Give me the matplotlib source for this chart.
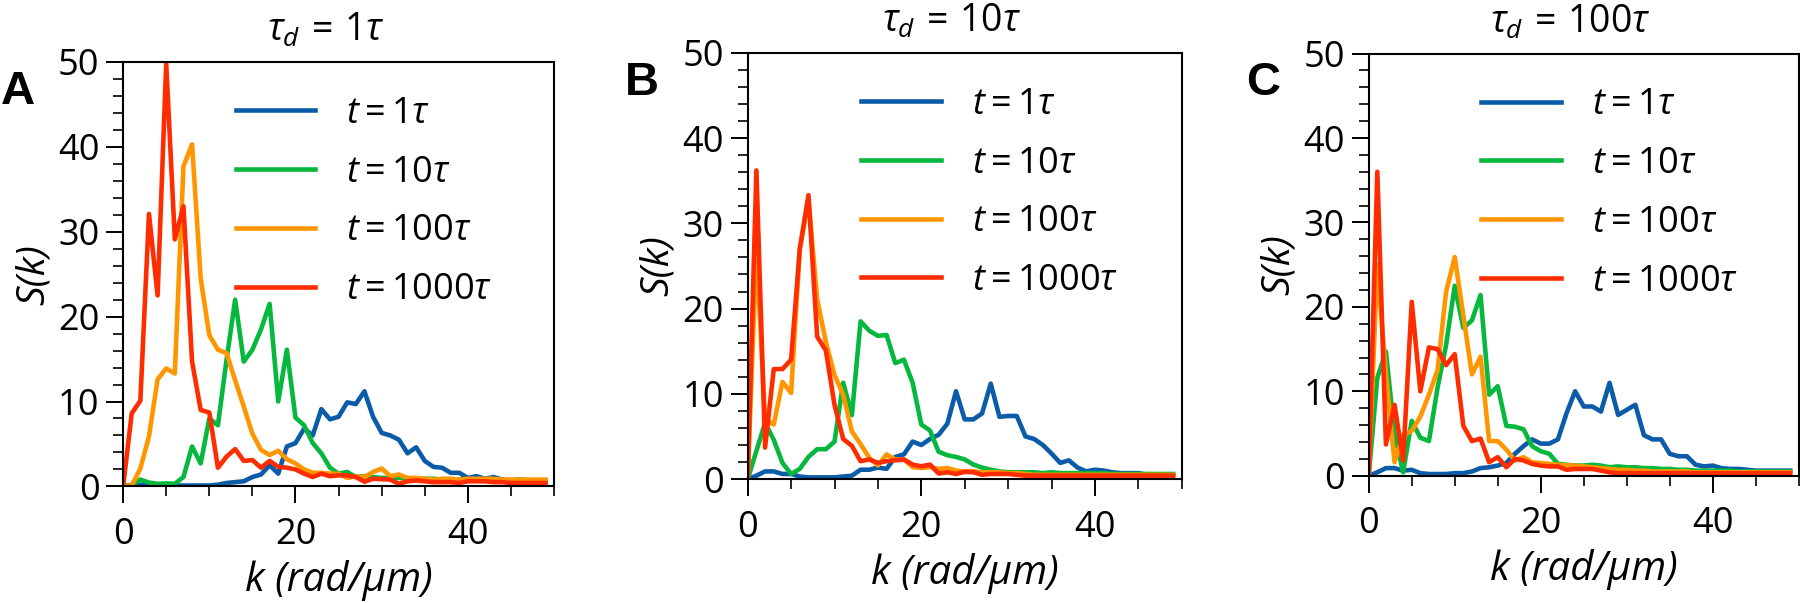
import numpy as np
import matplotlib
matplotlib.use('Agg')
import matplotlib.pyplot as plt
from matplotlib.ticker import MultipleLocator

plt.rcParams['font.family'] = ['Open Sans', 'DejaVu Sans']
plt.rcParams['mathtext.fontset'] = 'custom'
plt.rcParams['mathtext.rm'] = 'Open Sans'
plt.rcParams['mathtext.it'] = 'Open Sans:italic'
plt.rcParams['mathtext.bf'] = 'Open Sans:bold'
plt.rcParams['mathtext.fallback'] = 'stixsans'

# ── Data: S(k), k = 0..49 ─────────────────────────────────────
k = np.arange(50)

# panel A: tau_d = 1 tau
A_t1 = [0, 0.1, 0.2, 0.1, 0.1, 0.1, 0.1, 0.1, 0.1, 0.1,
        0.1, 0.2, 0.4, 0.5, 0.6, 1.1, 1.4, 2.5, 1.5, 4.7,
        5.1, 6.8, 6.0, 9.1, 7.9, 8.2, 9.9, 9.7, 11.2, 8.2,
        6.3, 6.0, 5.5, 3.9, 4.6, 3.0, 2.3, 2.2, 1.6, 1.6,
        1.0, 1.2, 0.9, 1.1, 0.8, 0.7, 0.6, 0.6, 0.5, 0.5]
A_t10 = [0, 0.2, 0.8, 0.45, 0.3, 0.35, 0.3, 1.1, 4.7, 2.7,
         8.0, 7.2, 14.9, 22.0, 14.7, 16.1, 18.5, 21.5, 10.0, 16.1,
         8.1, 7.2, 5.1, 3.9, 2.2, 1.5, 1.7, 1.1, 1.2, 1.1,
         1.0, 1.0, 1.0, 0.9, 0.9, 0.9, 0.9, 0.8, 0.8, 0.8,
         0.8, 0.8, 0.8, 0.7, 0.7, 0.7, 0.8, 0.7, 0.7, 0.7]
A_t100 = [0, 0.1, 2.1, 5.9, 12.6, 13.9, 13.3, 37.7, 40.3, 24.5,
          17.8, 16.1, 15.7, 12.5, 9.4, 6.2, 4.3, 3.7, 4.2, 3.2,
          2.7, 2.0, 1.6, 1.6, 1.5, 1.5, 1.0, 1.2, 1.1, 1.7,
          2.1, 1.2, 1.4, 1.0, 1.0, 0.9, 0.8, 0.9, 0.9, 0.8,
          0.9, 0.9, 0.9, 0.9, 0.8, 0.8, 0.8, 0.8, 0.8, 0.8]
A_t1000 = [0, 8.6, 10.1, 32.1, 22.5, 49.8, 29.1, 33.0, 14.7, 9.0,
           8.7, 2.2, 3.5, 4.4, 3.0, 3.1, 2.2, 3.0, 2.3, 2.2,
           2.0, 1.5, 1.1, 1.5, 1.2, 1.3, 1.3, 1.1, 0.55, 0.9,
           0.85, 0.8, 0.3, 0.6, 0.7, 0.6, 0.5, 0.5, 0.5, 0.4,
           0.6, 0.6, 0.6, 0.5, 0.5, 0.4, 0.4, 0.4, 0.4, 0.4]

# panel B: tau_d = 10 tau
B_t1 = [0, 0.4, 0.9, 0.9, 0.6, 0.6, 0.3, 0.2, 0.2, 0.2,
        0.2, 0.3, 0.4, 1.1, 1.1, 1.35, 1.2, 2.6, 2.9, 4.4,
        4.0, 4.7, 5.2, 6.5, 10.3, 7.0, 7.0, 7.7, 11.2, 7.3,
        7.4, 7.4, 5.0, 4.7, 4.0, 3.0, 1.9, 2.2, 1.35, 0.9,
        1.1, 1.0, 0.8, 0.7, 0.7, 0.7, 0.5, 0.5, 0.5, 0.5]
B_t10 = [0, 3.3, 6.6, 4.6, 1.9, 0.6, 1.2, 2.6, 3.5, 3.5,
         4.4, 11.3, 7.5, 18.5, 17.4, 16.8, 16.9, 13.6, 14.0, 11.3,
         6.4, 5.7, 3.2, 2.8, 2.6, 2.3, 1.7, 1.35, 1.1, 0.9,
         0.8, 0.8, 0.8, 0.8, 0.7, 0.8, 0.7, 0.7, 0.7, 0.7,
         0.7, 0.7, 0.6, 0.6, 0.6, 0.6, 0.6, 0.6, 0.6, 0.6]
B_t100 = [0, 27.0, 7.0, 6.4, 11.4, 10.1, 27.0, 32.8, 21.1, 16.1,
          12.2, 9.9, 5.6, 4.1, 2.5, 1.6, 2.9, 2.3, 2.3, 1.4,
          1.3, 1.4, 1.2, 1.3, 1.0, 0.9, 0.9, 0.8, 0.8, 0.8,
          0.7, 0.7, 0.6, 0.5, 0.5, 0.5, 0.5, 0.5, 0.5, 0.5,
          0.5, 0.5, 0.5, 0.5, 0.5, 0.5, 0.5, 0.5, 0.5, 0.5]
B_t1000 = [0, 36.2, 3.7, 12.9, 12.9, 14.0, 27.0, 33.3, 16.7, 15.1,
           8.7, 4.7, 3.9, 2.1, 2.3, 1.9, 2.1, 2.2, 2.3, 1.7,
           1.5, 1.7, 0.65, 0.8, 0.6, 0.85, 0.8, 0.5, 0.6, 0.6,
           0.6, 0.5, 0.4, 0.4, 0.4, 0.4, 0.4, 0.4, 0.4, 0.4,
           0.4, 0.4, 0.4, 0.4, 0.4, 0.4, 0.4, 0.4, 0.4, 0.4]

# panel C: tau_d = 100 tau
C_t1 = [0, 0.4, 0.9, 0.9, 0.6, 0.7, 0.3, 0.2, 0.2, 0.2,
        0.3, 0.3, 0.5, 0.9, 1.0, 1.2, 1.5, 2.6, 3.5, 4.3,
        3.8, 3.8, 4.3, 7.4, 10.0, 8.2, 8.2, 7.6, 11.0, 7.2,
        7.8, 8.4, 4.8, 4.3, 4.3, 2.6, 2.3, 2.3, 1.3, 1.1,
        1.2, 0.9, 0.8, 0.8, 0.7, 0.6, 0.6, 0.6, 0.6, 0.6]
C_t10 = [0, 11.6, 14.7, 5.0, 0.4, 6.5, 4.5, 4.1, 10.4, 15.5,
         22.5, 17.5, 18.4, 21.4, 9.6, 10.6, 5.9, 5.8, 5.5, 3.5,
         2.9, 2.6, 1.4, 1.3, 1.2, 1.2, 1.3, 1.2, 1.0, 1.1,
         1.0, 1.0, 0.9, 0.9, 0.8, 0.8, 0.7, 0.7, 0.6, 0.6,
         0.6, 0.6, 0.6, 0.5, 0.5, 0.5, 0.5, 0.5, 0.5, 0.5]
C_t100 = [0, 25.0, 12.0, 1.6, 4.8, 5.3, 7.0, 9.6, 12.5, 21.8,
          25.9, 19.0, 12.0, 14.1, 4.1, 4.1, 3.1, 1.8, 2.2, 1.6,
          1.5, 1.4, 1.3, 1.25, 1.2, 1.1, 1.0, 0.9, 0.8, 0.7,
          0.7, 0.6, 0.6, 0.5, 0.5, 0.5, 0.5, 0.5, 0.4, 0.4,
          0.4, 0.4, 0.4, 0.4, 0.4, 0.4, 0.4, 0.4, 0.4, 0.4]
C_t1000 = [0, 36.0, 3.7, 8.4, 1.8, 20.6, 10.0, 15.2, 15.0, 13.1,
           14.4, 5.9, 4.1, 4.4, 1.6, 2.2, 1.0, 2.0, 1.8, 1.4,
           1.2, 1.1, 1.1, 0.7, 0.8, 0.8, 0.8, 0.6, 0.4, 0.3,
           0.3, 0.3, 0.3, 0.3, 0.3, 0.3, 0.3, 0.3, 0.3, 0.3,
           0.3, 0.3, 0.3, 0.3, 0.3, 0.3, 0.3, 0.3, 0.3, 0.3]

panels = [
    ('A', r'$\tau_d\,=\,1\tau$', [A_t1, A_t10, A_t100, A_t1000]),
    ('B', r'$\tau_d\,=\,10\tau$', [B_t1, B_t10, B_t100, B_t1000]),
    ('C', r'$\tau_d\,=\,100\tau$', [C_t1, C_t10, C_t100, C_t1000]),
]
labels = [r'$t = 1\tau$', r'$t = 10\tau$', r'$t = 100\tau$', r'$t = 1000\tau$']
colors = ['#0b5ca8', '#06b83e', '#ff9600', '#ff2c00']

# axes boxes in figure fractions (left, bottom, width, height)
boxes = [(0.0684, 0.1934, 0.2394, 0.7038),
         (0.4154, 0.2055, 0.2411, 0.7070),
         (0.7604, 0.2111, 0.2389, 0.7000)]

FS = 26

fig = plt.figure(figsize=(18, 6.03), dpi=100)
fig.patch.set_facecolor('white')

for (letter, title, series), box in zip(panels, boxes):
    ax = fig.add_axes(box)
    for y, lab, c in zip(series, labels, colors):
        ax.plot(k, y, color=c, linewidth=3.3, label=lab)

    ax.set_xlim(0, 50)
    ax.set_ylim(0, 50)
    ax.xaxis.set_major_locator(MultipleLocator(20))
    ax.xaxis.set_minor_locator(MultipleLocator(5))
    ax.yaxis.set_major_locator(MultipleLocator(10))
    ax.yaxis.set_minor_locator(MultipleLocator(2))
    ax.tick_params(which='major', direction='out', length=12, width=1.4,
                   labelsize=FS, pad=5)
    ax.tick_params(axis='x', which='major', pad=10)
    ax.tick_params(which='minor', direction='out', length=7, width=1.2)
    for s in ax.spines.values():
        s.set_linewidth(1.5)

    ax.set_xlabel('k (rad/μm)', fontsize=FS + 3, style='italic', labelpad=5)
    ax.set_ylabel('S(k)', fontsize=FS + 2, style='italic', labelpad=4)
    ax.set_title(title, fontsize=FS + 1, pad=15, x=0.47)
    ax.text(-0.245, 0.93, letter, transform=ax.transAxes, fontsize=34,
            fontweight='bold', family='Liberation Sans', ha='center', va='center')

    ax.legend(loc='upper left', bbox_to_anchor=(0.262, 0.92), frameon=False,
              fontsize=FS, handlelength=2.2, handletextpad=0.85,
              labelspacing=0.63, borderpad=0, borderaxespad=0)

fig.savefig('out.png', dpi=100, facecolor='white')
